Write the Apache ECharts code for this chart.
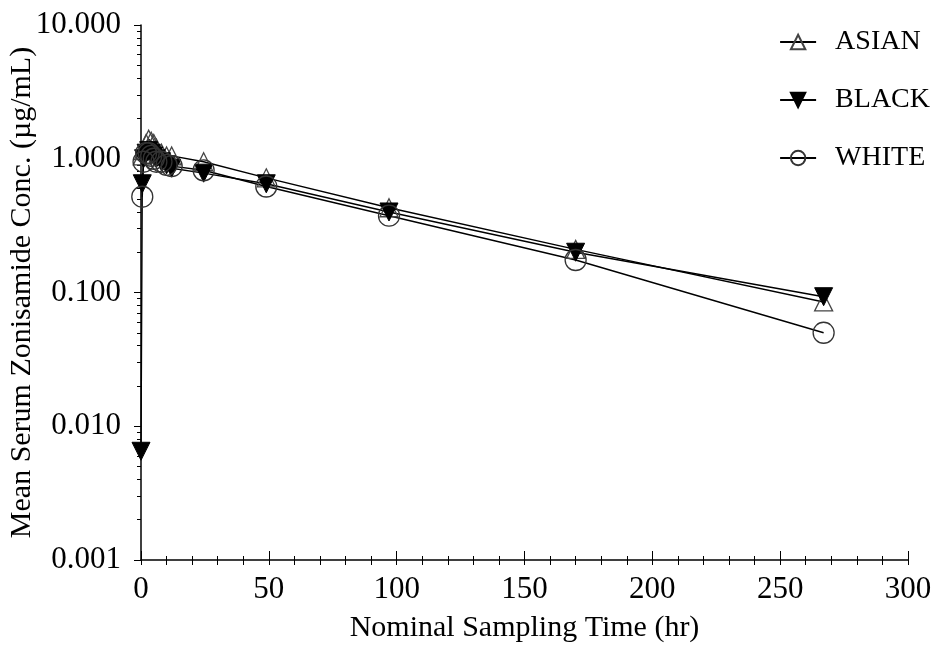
<!DOCTYPE html>
<html>
<head>
<meta charset="utf-8">
<script src="https://cdn.jsdelivr.net/npm/echarts@6/dist/echarts.min.js"></script>
<style>
  html, body { margin: 0; padding: 0; background: #fff; }
  #chart { width: 943px; height: 648px; }
</style>
</head>
<body>
<div id="chart"></div>
<script>
// sampling times (hr)
const times = [0, 0.5, 1, 2, 3, 4, 5, 6, 8, 10, 12, 24.5, 49, 97, 170, 267];
// mean serum conc. (ug/mL), null = not shown on log axis
const asian = [null, 1.05, 1.15, 1.3, 1.4, 1.35, 1.3, 1.2, 1.1, 1.05, 1.05, 0.95, 0.72, 0.43, 0.21, 0.085];
const black = [0.0065, 0.65, 1.0, 1.1, 1.15, 1.1, 1.05, 1.0, 0.95, 0.9, 0.85, 0.78, 0.65, 0.40, 0.20, 0.093];
const white = [null, 0.52, 0.95, 1.1, 1.1, 1.05, 1.0, 0.95, 0.95, 0.9, 0.88, 0.82, 0.62, 0.375, 0.175, 0.05];
const yMinorTicks = [0.002, 0.003, 0.004, 0.005, 0.006, 0.007, 0.008, 0.009,
  0.02, 0.03, 0.04, 0.05, 0.06, 0.07, 0.08, 0.09,
  0.2, 0.3, 0.4, 0.5, 0.6, 0.7, 0.8, 0.9,
  2, 3, 4, 5, 6, 7, 8, 9];

function pairs(vals) {
  return times.map((t, i) => [t, vals[i]]).filter(p => p[1] != null);
}

const font = 'Liberation Serif, Times New Roman, serif';
const chart = echarts.init(document.getElementById('chart'));

chart.setOption({
  animation: false,
  textStyle: { fontFamily: font, color: '#000' },
  grid: { left: 141, right: 35, top: 25, bottom: 88, outerBoundsMode: 'none', containLabel: false },
  legend: {
    orient: 'vertical',
    right: 8,
    top: 23,
    itemGap: 30,
    itemWidth: 36,
    itemHeight: 18,
    textStyle: { fontFamily: font, fontSize: 28, lineHeight: 28, color: '#000', padding: [0, 0, 0, 14] },
    data: ['ASIAN', 'BLACK', 'WHITE']
  },
  xAxis: [
    {
      type: 'value',
      min: 0,
      max: 300,
      interval: 50,
      name: 'Nominal Sampling Time (hr)',
      nameLocation: 'middle',
      nameGap: 53,
      nameMoveOverlap: false,
      nameTextStyle: { fontFamily: font, fontSize: 30, color: '#000' },
      axisLine: { lineStyle: { color: '#000', width: 1.5 } },
      axisTick: { inside: false, length: 5, lineStyle: { color: '#000' } },
      minorTick: { show: true, splitNumber: 5, length: 5, lineStyle: { color: '#000' } },
      axisLabel: { fontFamily: font, fontSize: 31, color: '#000', margin: 14 },
      splitLine: { show: false }
    },
    {
      type: 'value',
      position: 'bottom',
      min: 0,
      max: 300,
      interval: 50,
      axisLine: { show: false },
      axisTick: { inside: true, length: 9, lineStyle: { color: '#000' } },
      minorTick: { show: true, splitNumber: 5, length: 4, lineStyle: { color: '#000' } },
      axisLabel: { show: false },
      splitLine: { show: false }
    }
  ],
  yAxis: [
    {
      type: 'log',
      logBase: 10,
      min: 0.001,
      max: 10,
      name: 'Mean Serum Zonisamide Conc. (µg/mL)',
      nameLocation: 'middle',
      nameGap: 104,
      nameMoveOverlap: false,
      nameTextStyle: { fontFamily: font, fontSize: 30, color: '#000' },
      axisLine: { show: true, lineStyle: { color: '#000', width: 1.5 } },
      axisTick: { show: true, inside: false, length: 7, lineStyle: { color: '#000' } },
      axisLabel: {
        fontFamily: font, fontSize: 31, color: '#000', margin: 20,
        formatter: v => Number(v).toFixed(3)
      },
      splitLine: { show: false }
    },
    {
      type: 'log',
      logBase: 10,
      min: 0.001,
      max: 10,
      position: 'left',
      axisLine: { show: false },
      axisTick: { show: true, inside: false, length: 4, customValues: yMinorTicks, lineStyle: { color: '#000' } },
      axisLabel: { show: false },
      splitLine: { show: false }
    }
  ],
  series: [
    {
      name: 'ASIAN',
      type: 'line',
      data: pairs(asian),
      symbol: 'triangle',
      symbolSize: 18,
      lineStyle: { color: '#000', width: 1.4 },
      itemStyle: { color: 'rgba(255,255,255,0)', borderColor: '#444', borderWidth: 1.3 }
    },
    {
      name: 'BLACK',
      type: 'line',
      data: pairs(black),
      symbol: 'triangle',
      symbolRotate: 180,
      symbolSize: 18,
      lineStyle: { color: '#000', width: 1.4 },
      itemStyle: { color: '#000', borderColor: '#000', borderWidth: 1 }
    },
    {
      name: 'WHITE',
      type: 'line',
      data: pairs(white),
      symbol: 'circle',
      symbolSize: 21,
      lineStyle: { color: '#000', width: 1.4 },
      itemStyle: { color: 'rgba(255,255,255,0)', borderColor: '#333', borderWidth: 1.3 }
    }
  ]
});
</script>
</body>
</html>
